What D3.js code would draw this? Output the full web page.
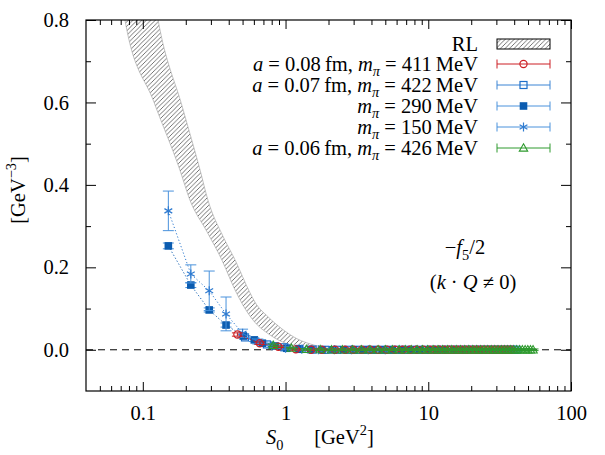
<!DOCTYPE html>
<html><head><meta charset="utf-8">
<script src="https://cdn.jsdelivr.net/npm/d3@7"></script>
<style>
body{margin:0;background:#fff}
text{font-family:"Liberation Serif","Times New Roman",serif;fill:#000}
</style></head><body>
<svg id="c" width="605" height="455"></svg>
<script>
// ---------- data ----------
const xMajorTicks = [0.1, 1, 10, 100];
const yMajorTicks = [0.0, 0.2, 0.4, 0.6, 0.8];
const yMinorTicks = [0.1, 0.3, 0.5, 0.7];

// RL band edges
const rlLowS = [0.06, 0.075, 0.12, 0.182, 0.214, 0.28, 0.358, 0.443, 0.504, 0.592, 0.778, 1.075, 1.4, 1.8];
const rlLowV = [1.05, 0.80, 0.60, 0.436, 0.363, 0.288, 0.218, 0.145, 0.108, 0.072, 0.036, 0.012, 0.004, 0.0];
const rlUpS  = [0.10, 0.128, 0.19, 0.252, 0.286, 0.365, 0.443, 0.564, 0.612, 0.754, 0.95, 1.2, 1.6, 2.0, 2.4];
const rlUpV  = [1.05, 0.80, 0.587, 0.436, 0.363, 0.275, 0.218, 0.138, 0.115, 0.08, 0.05, 0.027, 0.011, 0.004, 0.0];

// a = 0.08 fm, m_pi = 411 MeV
const redS = [0.46, 0.66, 0.89, 1.18, 1.51, 1.79, 2.22, 2.61, 2.98, 3.42, 3.91, 4.47, 5.12, 5.84, 6.63, 7.45, 8.29, 9.23, 10.3, 11.1, 12.0, 13.0, 14.0, 15.0, 16.1, 17.2, 18.4, 19.6, 20.9, 22.2, 23.6, 25.0, 26.5, 28.0, 29.6, 31.2, 32.9, 34.6, 36.4, 38.3];
const redV = [0.037, 0.016, 0.0075, 0.001, 0, 0, 0, 0, 0, 0, 0, 0, 0, 0, 0, 0, 0, 0, 0, 0, 0, 0, 0, 0, 0, 0, 0, 0, 0, 0, 0, 0, 0, 0, 0, 0, 0, 0, 0, 0];
const redE = [0.004, 0.003, 0.002, 0.002, 0.002, 0.002, 0.002, 0.002, 0.002, 0.002, 0.002, 0.002, 0.002, 0.002, 0.002, 0.002, 0.002, 0.002, 0.002, 0.002, 0.002, 0.002, 0.002, 0.002, 0.002, 0.002, 0.002, 0.002, 0.002, 0.002, 0.002, 0.002, 0.002, 0.002, 0.002, 0.002, 0.002, 0.002, 0.002, 0.002];

// a = 0.07 fm, m_pi = 422 MeV
const openS = [0.52, 0.74, 0.98, 1.25, 1.55, 1.9, 2.3, 2.75, 3.2, 3.7, 4.25, 4.85, 5.5, 6.2, 6.95, 7.75, 8.6, 9.5, 10.5, 11.5, 12.5, 13.6, 14.7, 15.9, 17.1, 18.4, 19.7, 21.1, 22.5, 24.0, 25.5, 27.1, 28.7, 30.4, 32.1, 33.9, 35.7, 37.6, 39.5, 41.5];
const openV = [0.030, 0.013, 0.006, 0.002, 0.0005, 0, 0, 0, 0, 0, 0, 0, 0, 0, 0, 0, 0, 0, 0, 0, 0, 0, 0, 0, 0, 0, 0, 0, 0, 0, 0, 0, 0, 0, 0, 0, 0, 0, 0, 0];
const openE = [0.004, 0.003, 0.003, 0.003, 0.003, 0.003, 0.003, 0.003, 0.003, 0.003, 0.003, 0.003, 0.003, 0.003, 0.003, 0.003, 0.003, 0.003, 0.003, 0.003, 0.003, 0.003, 0.003, 0.003, 0.003, 0.003, 0.003, 0.003, 0.003, 0.003, 0.003, 0.003, 0.003, 0.003, 0.003, 0.003, 0.003, 0.003, 0.003, 0.003];

// m_pi = 290 MeV
const fillS = [0.151, 0.217, 0.292, 0.383, 0.506, 0.604, 0.688, 0.844, 1.02, 1.25, 1.5, 1.8, 2.15, 2.55, 3.0, 3.5, 4.1, 4.8, 5.6, 6.5, 7.5, 8.7, 10.0, 11.5, 13.2, 15.1, 17.3, 19.8, 22.6];
const fillV = [0.252, 0.157, 0.0966, 0.060, 0.0335, 0.024, 0.016, 0.0092, 0.0037, 0.0015, 0.0005, 0, 0, 0, 0, 0, 0, 0, 0, 0, 0, 0, 0, 0, 0, 0, 0, 0, 0];
const fillE = [0.007, 0.006, 0.005, 0.005, 0.004, 0.004, 0.003, 0.003, 0.003, 0.003, 0.003, 0.003, 0.003, 0.003, 0.003, 0.003, 0.003, 0.003, 0.003, 0.003, 0.003, 0.003, 0.003, 0.003, 0.003, 0.003, 0.003, 0.003, 0.003];

// m_pi = 150 MeV
const starS = [0.151, 0.217, 0.292, 0.383, 0.50, 0.64, 0.80, 1.0, 1.3, 1.7, 2.2, 2.9, 3.8, 5.0];
const starV = [0.337, 0.184, 0.143, 0.087, 0.040, 0.020, 0.010, 0.004, 0.001, 0, 0, 0, 0, 0];
const starE = [0.048, 0.022, 0.048, 0.041, 0.010, 0.006, 0.004, 0.003, 0.002, 0.002, 0.002, 0.002, 0.002, 0.002];

// a = 0.06 fm, m_pi = 426 MeV
const greenS = [0.82, 1.1, 1.4, 1.75, 2.1, 2.5, 2.95, 3.4, 3.9, 4.45, 5.0, 5.6, 6.25, 6.9, 7.6, 8.35, 9.1, 9.9, 10.8, 11.7, 12.6, 13.6, 14.6, 15.7, 16.8, 18.0, 19.2, 20.5, 21.8, 23.2, 24.6, 26.1, 27.6, 29.2, 30.8, 32.5, 34.2, 36.0, 37.8, 39.7, 41.6, 43.6, 45.6, 47.7, 49.8, 52.0, 54.2];
const greenV = [0.011, 0.004, 0.001, 0.0003, 0, 0, 0, 0, 0, 0, 0, 0, 0, 0, 0, 0, 0, 0, 0, 0, 0, 0, 0, 0, 0, 0, 0, 0, 0, 0, 0, 0, 0, 0, 0, 0, 0, 0, 0, 0, 0, 0, 0, 0, 0, 0, 0];
const greenE = [0.003, 0.002, 0.002, 0.002, 0.002, 0.002, 0.002, 0.002, 0.002, 0.002, 0.002, 0.002, 0.002, 0.002, 0.002, 0.002, 0.002, 0.002, 0.002, 0.002, 0.002, 0.002, 0.002, 0.002, 0.002, 0.002, 0.002, 0.002, 0.002, 0.002, 0.002, 0.002, 0.002, 0.002, 0.002, 0.002, 0.002, 0.002, 0.002, 0.002, 0.002, 0.002, 0.002, 0.002, 0.002, 0.002, 0.002];

// ---------- layout ----------
const L = 86, R = 571, T = 20, B = 391;
const FS = 20.5;
const FONT = 'Liberation Serif';
const svg = d3.select('#c');
const x = d3.scaleLog().domain([0.04, 100]).range([L, R]);
const y = d3.scaleLinear().domain([-0.1, 0.8]).range([B, T]);

function rich(parent, parts, size) {
  const t = parent.append('text').attr('font-size', size).attr('font-family', FONT);
  let shift = 0;
  parts.forEach(p => {
    const target = p.sub ? 0.28 * size : (p.sup ? -0.42 * size : 0);
    const ts = t.append('tspan').text(p.t).attr('dy', target - shift);
    shift = target;
    if (p.i) ts.attr('font-style', 'italic');
    if (p.sub || p.sup) ts.attr('font-size', size * 0.7);
  });
  return t;
}

// hatch pattern
const defs = svg.append('defs');
const pat = defs.append('pattern').attr('id', 'hatch').attr('patternUnits', 'userSpaceOnUse')
  .attr('width', 4.5).attr('height', 4.5);
pat.append('path').attr('d', 'M-1,1 l2,-2 M0,4.5 l4.5,-4.5 M3.5,5.5 l2,-2')
  .attr('stroke', '#444').attr('stroke-width', 0.75);
defs.append('clipPath').attr('id', 'clip').append('rect')
  .attr('x', L).attr('y', T).attr('width', R - L).attr('height', B - T);

const plot = svg.append('g').attr('clip-path', 'url(#clip)');

// RL band
const up = rlUpS.map((s, i) => [x(s), y(rlUpV[i])]);
const low = rlLowS.map((s, i) => [x(s), y(rlLowV[i])]);
const lineGen = d3.line().curve(d3.curveMonotoneX);
const bandPath = lineGen(up) + 'L' + lineGen(low.slice().reverse()).slice(1) + 'Z';
plot.append('path').attr('d', bandPath).attr('fill', 'url(#hatch)')
  .attr('stroke', '#aaa').attr('stroke-width', 0.7);

// zero line
plot.append('line').attr('x1', L).attr('x2', R).attr('y1', y(0)).attr('y2', y(0))
  .attr('stroke', '#000').attr('stroke-width', 1).attr('stroke-dasharray', '7,5');

// markers
function marker(g, type, cx, cy, color) {
  if (type === 'circle') {
    g.append('circle').attr('cx', cx).attr('cy', cy).attr('r', 3.6)
      .attr('fill', 'none').attr('stroke', color).attr('stroke-width', 1.2);
  } else if (type === 'osquare') {
    g.append('rect').attr('x', cx - 3.5).attr('y', cy - 3.5).attr('width', 7).attr('height', 7)
      .attr('fill', 'none').attr('stroke', color).attr('stroke-width', 1.2);
  } else if (type === 'fsquare') {
    g.append('rect').attr('x', cx - 3.8).attr('y', cy - 3.8).attr('width', 7.6).attr('height', 7.6)
      .attr('fill', color);
  } else if (type === 'star') {
    const r = 4.5;
    const d = `M${cx},${cy - r}V${cy + r}` +
      `M${cx - r * 0.87},${cy - r * 0.5}L${cx + r * 0.87},${cy + r * 0.5}` +
      `M${cx - r * 0.87},${cy + r * 0.5}L${cx + r * 0.87},${cy - r * 0.5}`;
    g.append('path').attr('d', d).attr('stroke', color).attr('stroke-width', 1.2).attr('fill', 'none');
  } else if (type === 'tri') {
    const r = 4.2;
    g.append('path').attr('d', `M${cx},${cy - r}L${cx + r},${cy + r * 0.75}L${cx - r},${cy + r * 0.75}Z`)
      .attr('fill', 'none').attr('stroke', color).attr('stroke-width', 1.1);
  }
}

const series = [
  { S: openS, V: openV, E: openE, color: '#1f6fc9', bar: '#3a84d4', type: 'osquare' },
  { S: fillS, V: fillV, E: fillE, color: '#0b5cb0', bar: '#4a92dc', type: 'fsquare' },
  { S: starS, V: starV, E: starE, color: '#2f7bd0', bar: '#4a92dc', type: 'star' },
  { S: redS, V: redV, E: redE, color: '#cc1f24', bar: '#cc1f24', type: 'circle' },
  { S: greenS, V: greenV, E: greenE, color: '#2e9a2e', bar: '#2e9a2e', type: 'tri' }
];

series.forEach(s => {
  const g = plot.append('g');
  const pts = s.S.map((v, i) => [x(v), y(s.V[i])]);
  g.append('path').attr('d', d3.line()(pts)).attr('fill', 'none')
    .attr('stroke', s.color).attr('stroke-width', 1).attr('stroke-dasharray', '1.2,2.2');
  s.S.forEach((v, i) => {
    const cx = x(v), y1 = y(s.V[i] + s.E[i]), y2 = y(s.V[i] - s.E[i]);
    g.append('path').attr('d', `M${cx},${y1}V${y2}M${cx - 5.5},${y1}H${cx + 5.5}M${cx - 5.5},${y2}H${cx + 5.5}`)
      .attr('stroke', s.bar).attr('stroke-width', 1).attr('fill', 'none');
  });
  s.S.forEach((v, i) => marker(g, s.type, x(v), y(s.V[i]), s.color));
});

// axes
const xMinor = x.ticks().filter(t => xMajorTicks.indexOf(t) < 0 && t > 0.04);
function styleAxis(g) {
  g.select('.domain').remove();
  g.attr('font-family', FONT);
  g.selectAll('line').attr('stroke', '#000').attr('stroke-width', 1);
  g.selectAll('text').attr('font-size', FS).attr('font-family', FONT);
}
svg.append('g').attr('transform', `translate(0,${B})`)
  .call(d3.axisBottom(x).tickValues(xMajorTicks).tickSize(-9).tickPadding(14).tickFormat(d3.format('~g'))).call(styleAxis);
svg.append('g').attr('transform', `translate(0,${B})`)
  .call(d3.axisBottom(x).tickValues(xMinor).tickSize(-5).tickFormat('')).call(styleAxis);
svg.append('g').attr('transform', `translate(0,${T})`)
  .call(d3.axisTop(x).tickValues(xMajorTicks).tickSize(-9).tickFormat('')).call(styleAxis);
svg.append('g').attr('transform', `translate(0,${T})`)
  .call(d3.axisTop(x).tickValues(xMinor).tickSize(-5).tickFormat('')).call(styleAxis);
svg.append('g').attr('transform', `translate(${L},0)`)
  .call(d3.axisLeft(y).tickValues(yMajorTicks).tickSize(-10).tickPadding(17).tickFormat(d3.format('.1f'))).call(styleAxis);
svg.append('g').attr('transform', `translate(${L},0)`)
  .call(d3.axisLeft(y).tickValues(yMinorTicks).tickSize(-5).tickFormat('')).call(styleAxis);
svg.append('g').attr('transform', `translate(${R},0)`)
  .call(d3.axisRight(y).tickValues(yMajorTicks).tickSize(-10).tickFormat('')).call(styleAxis);
svg.append('g').attr('transform', `translate(${R},0)`)
  .call(d3.axisRight(y).tickValues(yMinorTicks).tickSize(-5).tickFormat('')).call(styleAxis);

svg.append('rect').attr('x', L).attr('y', T).attr('width', R - L).attr('height', B - T)
  .attr('fill', 'none').attr('stroke', '#000').attr('stroke-width', 1.2);

// axis labels
rich(svg, [{ t: 'S', i: 1 }, { t: '0', sub: 1 }, { t: '\u2003\u2002[GeV' }, { t: '2', sup: 1 }, { t: ']' }], FS)
  .attr('x', 266).attr('y', 444).attr('text-anchor', 'start');
rich(svg, [{ t: '[GeV' }, { t: '\u22123', sup: 1 }, { t: ']' }], FS)
  .attr('text-anchor', 'middle').attr('transform', 'translate(25,190) rotate(-90)');

// annotations
rich(svg, [{ t: '\u2212' }, { t: 'f', i: 1 }, { t: '5', sub: 1 }, { t: '/2' }], FS)
  .attr('x', 465).attr('y', 254).attr('text-anchor', 'middle');
rich(svg, [{ t: '(' }, { t: 'k', i: 1 }, { t: ' \u00b7 ' }, { t: 'Q', i: 1 }, { t: ' \u2260 0)' }], FS)
  .attr('x', 473).attr('y', 289).attr('text-anchor', 'middle');

// legend
const legX = 478, sx1 = 497, sx2 = 550;
const sub = (t) => ({ t: t, i: 1, sub: 1 });
const legend = [
  { y: 44, parts: [{ t: 'RL' }], rl: true },
  { y: 64, parts: [{ t: 'a', i: 1 }, { t: ' = 0.08\u2009fm, ' }, { t: 'm', i: 1 }, sub('\u03c0'), { t: ' = 411\u2009MeV' }], s: series[3] },
  { y: 85, parts: [{ t: 'a', i: 1 }, { t: ' = 0.07\u2009fm, ' }, { t: 'm', i: 1 }, sub('\u03c0'), { t: ' = 422\u2009MeV' }], s: series[0] },
  { y: 106, parts: [{ t: 'm', i: 1 }, sub('\u03c0'), { t: ' = 290\u2009MeV' }], s: series[1] },
  { y: 127, parts: [{ t: 'm', i: 1 }, sub('\u03c0'), { t: ' = 150\u2009MeV' }], s: series[2] },
  { y: 148, parts: [{ t: 'a', i: 1 }, { t: ' = 0.06\u2009fm, ' }, { t: 'm', i: 1 }, sub('\u03c0'), { t: ' = 426\u2009MeV' }], s: series[4] }
];
legend.forEach(e => {
  rich(svg, e.parts, FS).attr('x', legX).attr('y', e.y + 6.5).attr('text-anchor', 'end');
  if (e.rl) {
    svg.append('rect').attr('x', sx1).attr('y', e.y - 5).attr('width', sx2 - sx1).attr('height', 10)
      .attr('fill', 'url(#hatch)').attr('stroke', '#000').attr('stroke-width', 1);
  } else {
    const g = svg.append('g');
    g.append('path').attr('d', `M${sx1},${e.y}H${sx2}M${sx1},${e.y - 4.5}V${e.y + 4.5}M${sx2},${e.y - 4.5}V${e.y + 4.5}`)
      .attr('stroke', e.s.bar).attr('stroke-width', 1).attr('fill', 'none');
    marker(g, e.s.type, (sx1 + sx2) / 2, e.y, e.s.color);
  }
});
</script>
</body></html>
